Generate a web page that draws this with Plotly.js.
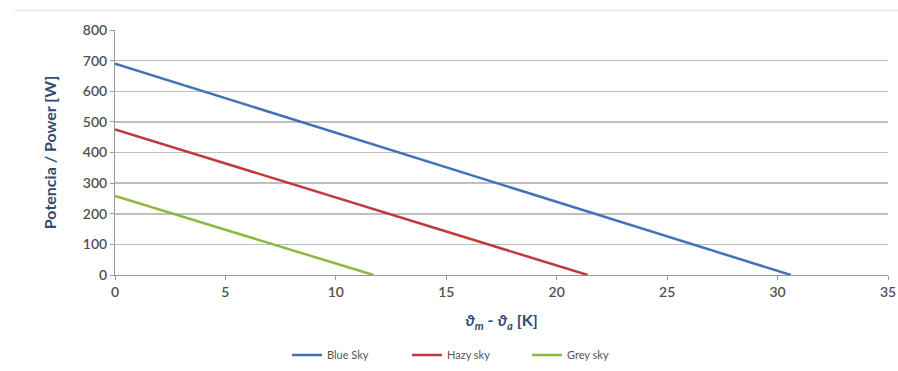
<!DOCTYPE html>
<html><head><meta charset="utf-8">
<script src="https://cdn.plot.ly/plotly-3.0.1.min.js"></script>
<style>body{margin:0;background:#fff}#c{width:898px;height:371px}</style>
</head><body><div id="c"></div>
<script>
const seriesNames = ["Blue Sky", "Hazy sky", "Grey sky"];
const xBlue = [0, 30.6];
const yBlue = [690, 0];
const xHazy = [0, 21.4];
const yHazy = [475, 0];
const xGrey = [0, 11.7];
const yGrey = [258, 0];
const xTicks = [0, 5, 10, 15, 20, 25, 30, 35];
const yTicks = [0, 100, 200, 300, 400, 500, 600, 700, 800];
const colors = ["#4472B8", "#C0393B", "#8DB83F"];

const xs = [xBlue, xHazy, xGrey], ys = [yBlue, yHazy, yGrey];
const traces = seriesNames.map((n, i) => ({
  x: xs[i], y: ys[i], name: n, mode: "lines", type: "scatter",
  line: {color: colors[i], width: 2.5}
}));
const tickFont = {family: "Lato, 'Liberation Sans', sans-serif", size: 14, color: "#505050", weight: 600};
const layout = {
  width: 898, height: 371,
  margin: {l: 115, r: 10, t: 30, b: 96, autoexpand: false},
  paper_bgcolor: "#fff", plot_bgcolor: "#fff",
  showlegend: true,
  legend: {orientation: "h", x: 0.52, xanchor: "center", xref: "container",
    y: 0.043, yanchor: "middle", yref: "container",
    font: {family: "Lato, 'Liberation Sans', sans-serif", size: 11, color: "#555555"},
    tracegroupgap: 0, entrywidth: 75},
  xaxis: {range: [0, 35], tickvals: xTicks, ticktext: xTicks.map(String), automargin: false,
    showgrid: false, zeroline: false, showline: true, linecolor: "#999", linewidth: 1,
    ticks: "outside", ticklen: 4, tickcolor: "#999", tickfont: tickFont,
    title: {text: "<b><i>ϑ</i><sub><i>m</i></sub> - <i>ϑ</i><sub><i>a</i></sub> [K]</b>", standoff: 16,
      font: {family: "Lato, 'Liberation Sans', sans-serif", size: 16, color: "#2F4B6E"}}},
  yaxis: {range: [0, 800], tickvals: yTicks, ticktext: yTicks.map(String), automargin: false,
    showgrid: true, gridcolor: "#BFBFBF", gridwidth: 1.5, zeroline: false,
    showline: true, linecolor: "#999", linewidth: 1,
    ticks: "outside", ticklen: 4, tickcolor: "#999", tickfont: tickFont,
    title: {text: "<b>Potencia / Power [W]</b>", standoff: 22,
      font: {family: "Lato, 'Liberation Sans', sans-serif", size: 16, color: "#2F4B6E"}}},
  shapes: [{type: "line", xref: "paper", yref: "paper", x0: -0.13, x1: 1.02, y0: 1.08, y1: 1.08,
    line: {color: "#E3E3E3", width: 1}}]
};
Plotly.newPlot("c", traces, layout, {staticPlot: true});
</script></body></html>
